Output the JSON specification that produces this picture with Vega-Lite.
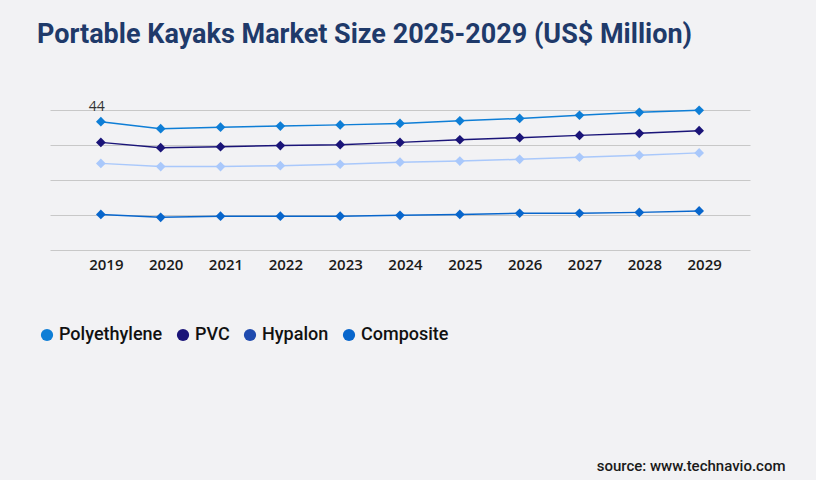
{
  "$schema": "https://vega.github.io/schema/vega-lite/v6.json",
  "autosize": "none",
  "width": 700,
  "height": 140,
  "padding": {"left": 50, "top": 110, "right": 66, "bottom": 230},
  "background": "#f2f2f4",
  "title": {
    "text": "Portable Kayaks Market Size 2025-2029 (US$ Million)",
    "anchor": "start",
    "frame": "group",
    "dx": -13,
    "offset": 30,
    "baseline": "alphabetic",
    "font": "Roboto",
    "fontSize": 27,
    "fontWeight": "bold",
    "color": "#1f3a6a"
  },
  "config": {
    "view": {"stroke": null},
    "axis": {"labelFont": "Open Sans", "titleFont": "Roboto"}
  },
  "data": {
    "values": [
      {"year": "2019", "series": "Polyethylene", "value": 44.0},
      {"year": "2020", "series": "Polyethylene", "value": 41.6},
      {"year": "2021", "series": "Polyethylene", "value": 42.1},
      {"year": "2022", "series": "Polyethylene", "value": 42.5},
      {"year": "2023", "series": "Polyethylene", "value": 42.9},
      {"year": "2024", "series": "Polyethylene", "value": 43.4},
      {"year": "2025", "series": "Polyethylene", "value": 44.3},
      {"year": "2026", "series": "Polyethylene", "value": 45.1},
      {"year": "2027", "series": "Polyethylene", "value": 46.2},
      {"year": "2028", "series": "Polyethylene", "value": 47.2},
      {"year": "2029", "series": "Polyethylene", "value": 47.9},
      {"year": "2019", "series": "PVC", "value": 36.9},
      {"year": "2020", "series": "PVC", "value": 35.1},
      {"year": "2021", "series": "PVC", "value": 35.4},
      {"year": "2022", "series": "PVC", "value": 35.8},
      {"year": "2023", "series": "PVC", "value": 36.1},
      {"year": "2024", "series": "PVC", "value": 36.9},
      {"year": "2025", "series": "PVC", "value": 37.8},
      {"year": "2026", "series": "PVC", "value": 38.5},
      {"year": "2027", "series": "PVC", "value": 39.3},
      {"year": "2028", "series": "PVC", "value": 40.0},
      {"year": "2029", "series": "PVC", "value": 40.9},
      {"year": "2019", "series": "Hypalon", "value": 29.7},
      {"year": "2020", "series": "Hypalon", "value": 28.6},
      {"year": "2021", "series": "Hypalon", "value": 28.6},
      {"year": "2022", "series": "Hypalon", "value": 28.9},
      {"year": "2023", "series": "Hypalon", "value": 29.4},
      {"year": "2024", "series": "Hypalon", "value": 30.1},
      {"year": "2025", "series": "Hypalon", "value": 30.5},
      {"year": "2026", "series": "Hypalon", "value": 31.1},
      {"year": "2027", "series": "Hypalon", "value": 31.8},
      {"year": "2028", "series": "Hypalon", "value": 32.5},
      {"year": "2029", "series": "Hypalon", "value": 33.3},
      {"year": "2019", "series": "Composite", "value": 12.2},
      {"year": "2020", "series": "Composite", "value": 11.2},
      {"year": "2021", "series": "Composite", "value": 11.6},
      {"year": "2022", "series": "Composite", "value": 11.6},
      {"year": "2023", "series": "Composite", "value": 11.6},
      {"year": "2024", "series": "Composite", "value": 11.9},
      {"year": "2025", "series": "Composite", "value": 12.2},
      {"year": "2026", "series": "Composite", "value": 12.6},
      {"year": "2027", "series": "Composite", "value": 12.6},
      {"year": "2028", "series": "Composite", "value": 12.9},
      {"year": "2029", "series": "Composite", "value": 13.4}
    ]
  },
  "encoding": {
    "x": {
      "field": "year",
      "type": "ordinal",
      "scale": {"type": "point", "padding": 0.85},
      "axis": {
        "title": "source: www.technavio.com",
        "titleAnchor": "end",
        "titleAlign": "right",
        "titleBaseline": "alphabetic",
        "titleX": 735,
        "titleY": 220,
        "titleFont": "Roboto",
        "titleFontSize": 15,
        "titleFontWeight": 500,
        "titleColor": "#1a1a1a",
        "labelAngle": 0,
        "labelFontSize": 15,
        "labelFontWeight": 600,
        "labelColor": "#1a1a1a",
        "labelPadding": 7,
        "labelOffset": 5,
        "domain": false,
        "ticks": false,
        "grid": false
      }
    },
    "y": {
      "field": "value",
      "type": "quantitative",
      "scale": {"domain": [0, 48], "nice": false},
      "axis": {
        "values": [0, 12, 24, 36, 48],
        "labels": false,
        "ticks": false,
        "domain": false,
        "title": null,
        "gridColor": "#c8c8c8",
        "gridWidth": 1
      }
    }
  },
  "layer": [
    {
      "mark": {"type": "point", "shape": "circle", "filled": true, "opacity": 0},
      "encoding": {
        "fill": {
          "field": "series",
          "type": "nominal",
          "sort": null,
          "scale": {
            "domain": ["Polyethylene", "PVC", "Hypalon", "Composite"],
            "range": ["#0e7ed6", "#1a1478", "#1f4aae", "#0866cc"]
          },
          "legend": {
            "title": null,
            "orient": "none",
            "direction": "horizontal",
            "legendX": -12,
            "legendY": 216,
            "symbolType": "circle",
            "symbolSize": 150,
            "symbolOpacity": 1,
            "symbolStrokeWidth": 0,
            "labelFont": "Roboto",
            "labelFontSize": 18,
            "labelFontWeight": 500,
            "labelColor": "#111111",
            "labelOffset": 3,
            "columnPadding": 11
          }
        }
      }
    },
    {
      "mark": {"type": "line", "strokeWidth": 1.5},
      "encoding": {
        "color": {
          "field": "series",
          "type": "nominal",
          "sort": null,
          "scale": {
            "domain": ["Polyethylene", "PVC", "Hypalon", "Composite"],
            "range": ["#0e7ed6", "#1a1478", "#a9c8fb", "#0866cc"]
          },
          "legend": null
        }
      }
    },
    {
      "mark": {"type": "point", "shape": "diamond", "filled": true, "size": 95, "opacity": 1},
      "encoding": {
        "color": {"field": "series", "type": "nominal", "sort": null, "legend": null}
      }
    },
    {
      "transform": [{"filter": "datum.series === 'Polyethylene' && datum.year === '2019'"}],
      "mark": {"type": "text", "dy": -15, "dx": -4, "font": "Open Sans", "fontSize": 14, "color": "#333333"},
      "encoding": {
        "text": {"field": "value", "type": "quantitative", "format": ".0f"}
      }
    }
  ]
}
